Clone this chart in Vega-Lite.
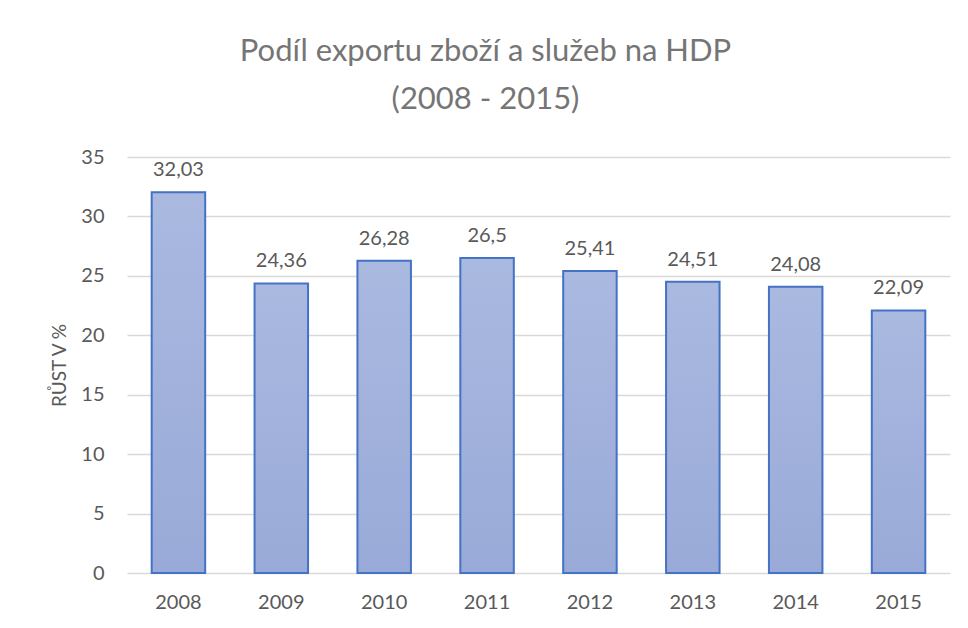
{
  "$schema": "https://vega.github.io/schema/vega-lite/v6.json",
  "width": 968,
  "height": 628,
  "autosize": {"type": "fit", "contains": "padding"},
  "padding": {"left": 50, "top": 36, "right": 18, "bottom": 16},
  "background": "white",
  "title": {
    "text": ["Podíl exportu zboží a služeb na HDP", "(2008 - 2015)"],
    "font": "Lato",
    "fontSize": 31,
    "fontWeight": "normal",
    "color": "#757575",
    "lineHeight": 48,
    "anchor": "middle",
    "frame": "group",
    "dx": -53,
    "offset": 31
  },
  "data": {
    "values": [
      {"rok": "2008", "hodnota": 32.03, "popis": "32,03"},
      {"rok": "2009", "hodnota": 24.36, "popis": "24,36"},
      {"rok": "2010", "hodnota": 26.28, "popis": "26,28"},
      {"rok": "2011", "hodnota": 26.5, "popis": "26,5"},
      {"rok": "2012", "hodnota": 25.41, "popis": "25,41"},
      {"rok": "2013", "hodnota": 24.51, "popis": "24,51"},
      {"rok": "2014", "hodnota": 24.08, "popis": "24,08"},
      {"rok": "2015", "hodnota": 22.09, "popis": "22,09"}
    ]
  },
  "encoding": {
    "x": {
      "field": "rok",
      "type": "nominal",
      "scale": {"paddingInner": 0.48, "paddingOuter": 0.24},
      "axis": {
        "title": null,
        "labelAngle": 0,
        "labelFont": "Lato",
        "labelFontSize": 20,
        "labelColor": "#595959",
        "labelPadding": 19,
        "ticks": false,
        "domain": false,
        "grid": false
      }
    },
    "y": {
      "field": "hodnota",
      "type": "quantitative",
      "scale": {"domain": [0, 35]},
      "axis": {
        "title": "RŮST V %",
        "titleFont": "Lato",
        "titleFontSize": 19,
        "titleFontWeight": "normal",
        "titleColor": "#595959",
        "titlePadding": 11,
        "values": [0, 5, 10, 15, 20, 25, 30, 35],
        "labelFont": "Lato",
        "labelFontSize": 20,
        "labelColor": "#595959",
        "labelPadding": 23,
        "ticks": false,
        "domain": false,
        "grid": true,
        "gridColor": "#d9d9d9",
        "gridWidth": 1.5
      }
    }
  },
  "layer": [
    {
      "mark": {
        "type": "bar",
        "stroke": "#4472c4",
        "strokeWidth": 2,
        "color": {
          "gradient": "linear",
          "x1": 0, "y1": 0, "x2": 0, "y2": 1,
          "stops": [
            {"offset": 0, "color": "#aab9e0"},
            {"offset": 1, "color": "#99aad8"}
          ]
        }
      }
    },
    {
      "mark": {
        "type": "text",
        "baseline": "bottom",
        "dy": -12,
        "font": "Lato",
        "fontSize": 20,
        "color": "#595959"
      },
      "encoding": {"text": {"field": "popis"}}
    }
  ],
  "config": {"view": {"stroke": null}}
}
